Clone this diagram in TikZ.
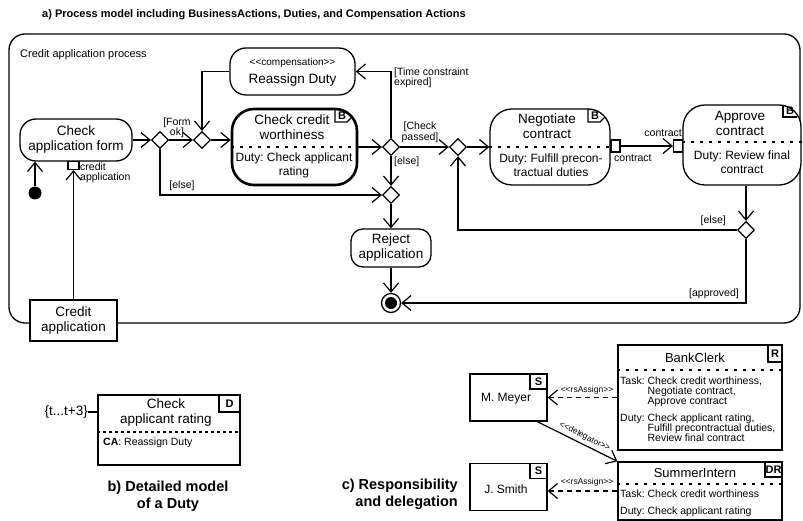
\documentclass[tikz,border=0pt]{standalone}
\usepackage{fontspec}
\setmainfont{Liberation Sans}
\usetikzlibrary{arrows.meta,shapes.geometric}
\newcommand{\stereo}[1]{<{}<#1>{}>}
\frenchspacing
\begin{document}
\frenchspacing
\begin{tikzpicture}[x=1pt,y=-1pt,
  arr/.style={line width=1.2pt,-{Straight Barb[length=9pt,width=15pt]}},
  darr/.style={arr, dash pattern=on 5pt off 4pt},
  act/.style={draw, line width=1.3pt, rounded corners=16pt, fill=white, inner sep=0pt},
  box/.style={draw, line width=1.3pt, fill=white, inner sep=0pt},
  big/.style={font=\fontsize{13.5}{15}\selectfont, align=center, inner sep=0pt},
  med/.style={font=\fontsize{12}{14}\selectfont, align=center, inner sep=0pt},
  lbl/.style={font=\fontsize{10.5}{10.5}\selectfont, inner sep=0pt},
  sml/.style={font=\fontsize{8.5}{9}\selectfont, inner sep=0pt},
  dec/.style={diamond, draw, fill=white, line width=1.2pt, minimum width=17pt, minimum height=17pt, inner sep=0pt},
  port/.style={draw, fill=white, line width=1.2pt, minimum width=9pt, minimum height=12pt, inner sep=0pt},
  sep/.style={line width=1.3pt, dash pattern=on 3pt off 6pt},
  tabl/.style={font=\bfseries\fontsize{11}{11}\selectfont, inner sep=0pt},
  hdr/.style={font=\bfseries\fontsize{14.5}{17}\selectfont, align=center, inner sep=0pt}
]
\useasboundingbox (0,0) rectangle (803,521);

% ---------- a) ----------
\node[anchor=west, font=\bfseries\fontsize{11}{13}\selectfont, inner sep=0pt] (title) at (42,15)
  {a) Process model including BusinessActions, Duties, and Compensation Actions};
\node[draw, line width=1.3pt, rounded corners=16pt, minimum width=791pt, minimum height=289pt, inner sep=0pt] (frame) at (404.5,178.5) {};
\node[font=\fontsize{11}{12}\selectfont, anchor=west, inner sep=0pt] (plabel) at (20,55) {Credit application process};

\node[act, big, minimum width=112pt, minimum height=42pt] (caf) at (76,140) {Check\\application form};
\node[circle, fill=black, minimum size=13pt, inner sep=0pt] (init) at (35,193) {};
\draw[arr] (init) -- (init |- caf.south);
\node[port, minimum width=11pt, minimum height=8pt] (pin1) at (73.5,165.5) {};
\node[lbl, anchor=west, align=left] (pin1l) at (80,173) {credit\\application};
\node[box, big, minimum width=87pt, minimum height=41pt] (cao) at (73.5,320.5) {Credit\\application};
\draw[arr] (cao) -- (pin1);

\node[dec] (d1) at (160,140) {};
\node[dec] (d2) at (202,140) {};
\draw[arr] (caf) -- (d1);
\draw[arr] (d1) -- (d2);
\node[lbl, align=center] (formok) at (177,128) {[Form\\ok]};

\node[act, minimum width=125pt, minimum height=47pt] (rd) at (292.5,71.5) {};
\node[font=\fontsize{10}{11}\selectfont, inner sep=0pt] (rds) at (292.5,63) {\stereo{compensation}};
\node[big] (rdt) at (292.5,80) {Reassign Duty};

\node[act, rounded corners=22pt, line width=2.6pt, minimum width=125pt, minimum height=76pt] (ccw) at (294.5,147) {};
\node[big] (ccwt) at (292,127) {Check credit\\worthiness};
\node[med] (ccwd) at (294,165) {Duty: Check applicant\\rating};
\draw[sep] (ccw.west) -- (ccw.east);
\draw[line width=1.3pt] (335,109) -- (335,122) -- (347,122) -- (352,117);
\node[tabl] (ccwb) at (342,115.5) {B};

\draw[arr] (d2) -- (d2 -| ccw.west);
\draw[arr] (rd.west) -| (d2.north);

\node[dec] (d3) at (391,147) {};
\draw[arr] (ccw) -- (d3);
\draw[arr] (d3.north) |- (rd.east);
\node[lbl, anchor=west, align=left] (tce) at (394,78) {[Time constraint\\expired]};

\node[dec] (d4) at (458,147) {};
\draw[arr] (d3) -- (d4);
\node[lbl, align=center] (cp) at (420,132.5) {[Check\\passed]};

\node[act, rounded corners=22pt, minimum width=120pt, minimum height=76pt] (neg) at (550,147) {};
\node[big] (negt) at (547,126.5) {Negotiate\\contract};
\node[med] (negd) at (551,165) {Duty: Fulfill precon-\\tractual duties};
\draw[sep] (neg.west) -- (neg.east);
\draw[line width=1.3pt] (588,109) -- (588,122) -- (600,122) -- (605,117);
\node[tabl] (negb) at (595,115.5) {B};
\draw[arr] (d4) -- (neg);

\node[port] (pneg) at (615.5,146) {};
\node[lbl, anchor=west] (pnegl) at (614,158) {contract};

\node[act, rounded corners=22pt, minimum width=118pt, minimum height=80pt] (app) at (742,145) {};
\node[big] (appt) at (740,123.5) {Approve\\contract};
\node[med] (appd) at (742,162.5) {Duty: Review final\\contract};
\draw[sep] (app.west |- 0,142) -- (app.east |- 0,142);
\draw[line width=1.3pt] (783,105) -- (783,117) -- (797,117);
\node[tabl] (appb) at (790,111) {B};
\node[port] (papp) at (678,146) {};
\draw[arr] (pneg) -- (papp);
\node[lbl, anchor=east] (pappl) at (682,133) {contract};

\node[dec] (d6) at (746,230) {};
\draw[arr] (d6 |- app.south) -- (d6);
\draw[arr] (d6) -| (d4);
\node[lbl, anchor=east] (else3) at (726,221) {[else]};

\node[dec] (d5) at (391,195) {};
\draw[arr] (d3) -- (d5);
\node[lbl, anchor=west] (else2) at (394,162) {[else]};
\draw[arr] (d1) |- (d5);
\node[lbl] (else1) at (182,186) {[else]};

\node[act, rounded corners=12pt, big, minimum width=80pt, minimum height=38pt] (rej) at (391,248) {Reject\\application};
\draw[arr] (d5) -- (rej);
\node[circle, draw, line width=1.3pt, fill=white, minimum size=19pt, inner sep=0pt] (fin) at (391,303) {};
\node[circle, fill=black, minimum size=12pt, inner sep=0pt] (finc) at (fin) {};
\draw[arr] (rej) -- (fin);
\draw[arr] (d6) |- (fin);
\node[lbl, anchor=east] (apprl) at (739,294) {[approved]};

% ---------- b) ----------
\node[box, minimum width=142pt, minimum height=70pt] (duty) at (169,430) {};
\draw[line width=1.3pt] (219,395) rectangle (240,412);
\node[tabl] (dutyd) at (229.5,403.5) {D};
\node[big] (dutyt) at (166,412.5) {Check\\applicant rating};
\draw[line width=1.3pt, dash pattern=on 3pt off 3pt] (duty.west |- 0,432) -- (duty.east |- 0,432);
\node[lbl, anchor=west] (ca) at (103,443) {\textbf{CA}: Reassign Duty};
\node[big, anchor=east] (tl) at (88,412) {\{t...t+3\}};
\draw[line width=1.3pt] (tl.east) -- (tl.east -| duty.west);
\node[hdr] (hb) at (168,496) {b) Detailed model\\of a Duty};

% ---------- c) ----------
\node[box, minimum width=77pt, minimum height=47pt] (mm) at (508.5,397.5) {};
\draw[line width=1.3pt] (530,374) rectangle (547,389);
\node[tabl] (mms) at (538.5,381.5) {S};
\node[font=\fontsize{12}{13}\selectfont, inner sep=0pt] (mmt) at (506,399) {M. Meyer};

\node[box, minimum width=77pt, minimum height=47pt] (js) at (508.5,487) {};
\draw[line width=1.3pt] (530,463.5) rectangle (547,478.5);
\node[tabl] (jss) at (538.5,471) {S};
\node[font=\fontsize{12}{13}\selectfont, inner sep=0pt] (jst) at (506,489) {J. Smith};

\node[box, minimum width=164pt, minimum height=105pt] (bc) at (700,397.5) {};
\draw[line width=1.3pt] (768,345) rectangle (782,362);
\node[tabl] (bcr) at (775,353.5) {R};
\node[font=\fontsize{13}{14}\selectfont, inner sep=0pt] (bct) at (695,358) {BankClerk};
\draw[sep] (bc.west |- 0,370) -- (bc.east |- 0,370);
\node[lbl, font=\fontsize{10.5}{10}\selectfont, anchor=west, align=left] (bctask) at (620,392)
  {Task: Check credit worthiness,\\\hphantom{Task: }Negotiate contract,\\\hphantom{Task: }Approve contract};
\node[lbl, font=\fontsize{10.5}{10}\selectfont, anchor=west, align=left] (bcduty) at (620,428)
  {Duty: Check applicant rating,\\\hphantom{Duty: }Fulfill precontractual duties,\\\hphantom{Duty: }Review final contract};

\node[box, minimum width=164pt, minimum height=58pt] (si) at (700,491) {};
\draw[line width=1.3pt] (765,462) rectangle (782,477);
\node[tabl] (sidr) at (773.5,469.5) {DR};
\node[font=\fontsize{13}{14}\selectfont, inner sep=0pt] (sit) at (695,473) {SummerIntern};
\draw[sep] (si.west |- 0,484) -- (si.east |- 0,484);
\node[lbl, anchor=west] (sitask) at (620,494) {Task: Check credit worthiness};
\node[lbl, anchor=west] (siduty) at (620,512) {Duty: Check applicant rating};

\draw[darr] (bc) -- (mm);
\node[sml] (rs1) at (587,390) {\stereo{rsAssign}};
\draw[darr] (si.west) -- (si.west -| js.east);
\node[sml] (rs2) at (587,482) {\stereo{rsAssign}};
\draw[arr] (mm.-40) -- node[sml, sloped, above=3pt, pos=0.55] {\stereo{delegator}} (si.north west);

\node[hdr, align=right, anchor=east] (hc) at (458,494) {c) Responsibility\\and delegation};
\end{tikzpicture}
\end{document}
